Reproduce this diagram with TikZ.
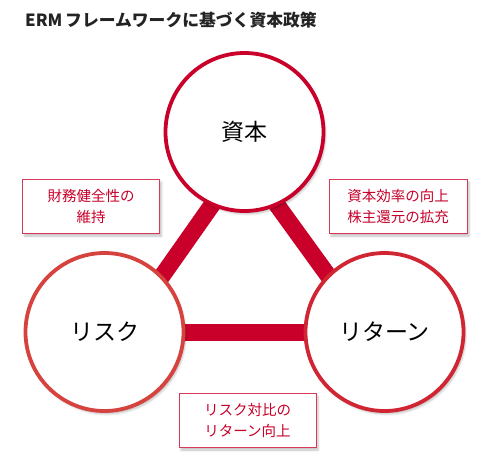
\documentclass[tikz,border=0pt]{standalone}
\usepackage{fontspec}
\setmainfont{Noto Sans CJK JP}
\usetikzlibrary{shadows.blur}
\definecolor{rosso}{RGB}{200,0,42}
\definecolor{rossochiaro}{RGB}{214,66,62}
\definecolor{rossomedio}{RGB}{208,38,52}
\definecolor{bordo}{RGB}{214,58,88}
\definecolor{titolo}{RGB}{35,35,35}

\begin{document}
\begin{tikzpicture}[x=1pt, y=-1pt,
    cerchio/.style={circle, draw=rossochiaro, line width=3.8pt, fill=white,
        minimum size=158pt, inner sep=0pt, font=\fontsize{23}{23}\selectfont,
        blur shadow={shadow xshift=2pt, shadow yshift=-3pt, shadow opacity=25}},
    riquadro/.style={draw=bordo, line width=0.8pt, fill=white,
        minimum width=137pt, minimum height=54pt, inner sep=0pt, align=center,
        text=rosso, font=\fontsize{14.5}{21}\selectfont,
        blur shadow={shadow xshift=2pt, shadow yshift=-3pt, shadow opacity=25}},
    barra/.style={rosso, line width=17pt}]
    \useasboundingbox (0,0) rectangle (500,469);
        %titolo
        \node[anchor=west, inner sep=0pt, text=titolo, font=\bfseries\fontsize{16.8}{16.8}\selectfont]
            (titolo) at (25,20) {ERM\,フレームワークに基づく資本政策};
        %estremi barre
        \coordinate (capitale-sx) at (223.5,188.6);
        \coordinate (capitale-dx) at (265.3,188.8);
        \coordinate (rischio-su) at (150.5,292.4);
        \coordinate (rischio-dx) at (160,332);
        \coordinate (ritorno-su) at (339.7,291.6);
        \coordinate (ritorno-sx) at (330,332);
        %disegno barre
        \draw[barra] (capitale-sx)-- (rischio-su);
        \draw[barra] (capitale-dx)-- (ritorno-su);
        \draw[barra] (rischio-dx)-- (ritorno-sx);
        %disegno cerchi
        \node[cerchio, draw=rosso] (capitale) at (244.5,132) {資本};
        \node[cerchio] (rischio) at (104.5,332) {リスク};
        \node[cerchio, draw=rossomedio] (ritorno) at (384.5,332) {リターン};
        %riquadri
        \node[riquadro] (solidita) at (91,206) {財務健全性の\\維持};
        \node[riquadro, minimum width=138pt] (efficienza) at (398,206) {資本効率の向上\\株主還元の拡充};
        \node[riquadro] (rendimento) at (247.5,420) {リスク対比の\\リターン向上};
\end{tikzpicture}
\end{document}
